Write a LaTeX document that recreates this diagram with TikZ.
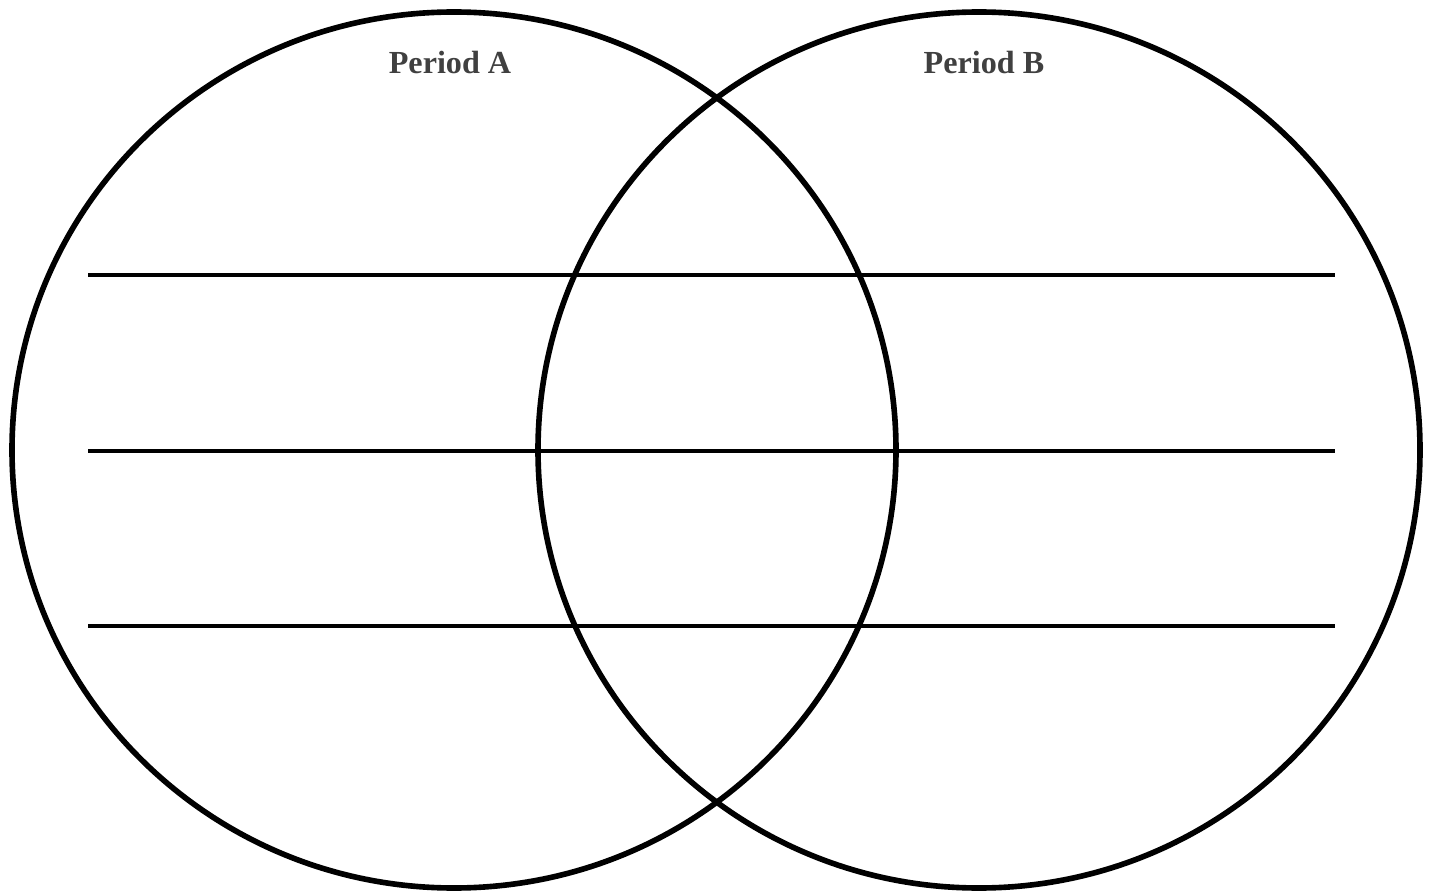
\documentclass[tikz,border=0pt]{standalone}
\usepackage{fontspec}
\setmainfont{Liberation Serif}
\usepackage{tikz}
\usetikzlibrary{positioning}
\usepackage{xcolor}
\definecolor{venndark}{HTML}{000000}
\definecolor{venngray}{HTML}{404040}

\begin{document}
\begin{tikzpicture}[x=0.02cm, y=-0.02cm]
  \useasboundingbox (0,0) rectangle (1434,895);

  % Left circle
  \draw[venndark, line width=3.2pt] (454,450) ellipse [x radius=442, y radius=438];

  % Right circle
  \draw[venndark, line width=3.2pt] (979,450) ellipse [x radius=441, y radius=438];

  % Writing lines
  \foreach \y in {275,451,626}
    \draw[venndark, line width=2.1pt] (88,\y) -- (1335,\y);

  % Titles
  \node[font=\fontsize{18.3}{21}\selectfont\bfseries\color{venngray}] (periodA) at (450,63) {Period A};
  \node[font=\fontsize{18.3}{21}\selectfont\bfseries\color{venngray}] (periodB) at (984,63) {Period B};
\end{tikzpicture}
\end{document}
